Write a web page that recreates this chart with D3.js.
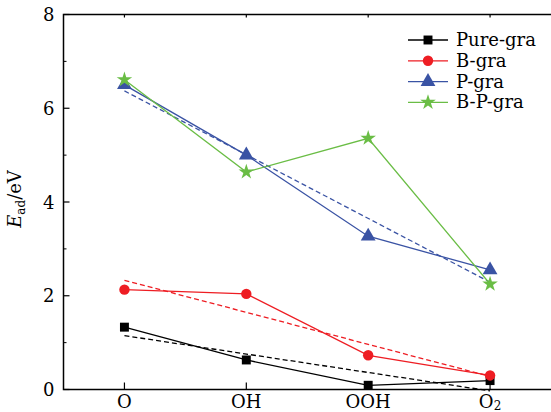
<!DOCTYPE html>
<html>
<head>
<meta charset="utf-8">
<script src="https://cdn.jsdelivr.net/npm/d3@7/dist/d3.min.js"></script>
<style>
  body { margin: 0; background: #fff; }
  text { font-family: "DejaVu Serif", serif; fill: #000; }
</style>
</head>
<body>
<svg id="chart" width="551" height="412"></svg>
<script>
// categories and values
const categories = ["O", "OH", "OOH", "O2"];
const pureGra = [1.33, 0.63, 0.09, 0.19];
const bGra = [2.13, 2.04, 0.73, 0.30];
const pGra = [6.50, 5.00, 3.27, 2.55];
const bpGra = [6.61, 4.64, 5.36, 2.25];
// dashed trend lines, value at O and at O2
const pureFit = [1.15, -0.03];
const bFit = [2.33, 0.28];
const pFit = [6.37, 2.29];
const yTicks = [0, 2, 4, 6, 8];
const yMinor = [1, 3, 5, 7];

const series = [
    {name: "Pure-gra", values: pureGra, fit: pureFit, color: "#000000", marker: d3.symbolSquare, size: 80},
    {name: "B-gra", values: bGra, fit: bFit, color: "#ee1d23", marker: d3.symbolCircle, size: 85},
    {name: "P-gra", values: pGra, fit: pFit, color: "#3a53a4", marker: d3.symbolTriangle, size: 95},
    {name: "B-P-gra", values: bpGra, fit: null, color: "#6abd45", marker: d3.symbolStar, size: 75}
];

function init() {
    const svg = d3.select("#chart");
    const left = 63.5, right = 551, top = 14.5, bottom = 389.5;

    const x = d3.scaleLinear().domain([-0.5, 3.5]).range([left, right]);
    const y = d3.scaleLinear().domain([0, 8]).range([bottom, top]);

    //frame
    svg.append("rect")
        .attr("x", left).attr("y", top)
        .attr("width", right - left + 2).attr("height", bottom - top)
        .attr("fill", "none").attr("stroke", "#000").attr("stroke-width", 1.5);

    //y ticks, inward
    svg.append("g").selectAll("line").data(yTicks).enter()
        .append("line")
        .attr("x1", left).attr("x2", left + 6)
        .attr("y1", d => y(d)).attr("y2", d => y(d))
        .attr("stroke", "#000").attr("stroke-width", 1.2);
    svg.append("g").selectAll("line").data(yMinor).enter()
        .append("line")
        .attr("x1", left).attr("x2", left + 3)
        .attr("y1", d => y(d)).attr("y2", d => y(d))
        .attr("stroke", "#000").attr("stroke-width", 1);
    svg.append("g").selectAll("text").data(yTicks).enter()
        .append("text")
        .attr("x", left - 9).attr("y", d => y(d) + 6.5)
        .attr("text-anchor", "end")
        .style("font-size", "18px")
        .text(d => d);

    //x ticks, bottom (up) and top (down)
    svg.append("g").selectAll("line").data(categories).enter()
        .append("line")
        .attr("x1", (d, i) => x(i)).attr("x2", (d, i) => x(i))
        .attr("y1", bottom).attr("y2", bottom - 7)
        .attr("stroke", "#000").attr("stroke-width", 1.2);
    svg.append("g").selectAll("line").data(categories).enter()
        .append("line")
        .attr("x1", (d, i) => x(i)).attr("x2", (d, i) => x(i))
        .attr("y1", top).attr("y2", top + 3)
        .attr("stroke", "#000").attr("stroke-width", 1.2);

    const xl = svg.append("g").selectAll("text").data(categories).enter()
        .append("text")
        .attr("x", (d, i) => x(i)).attr("y", 408)
        .attr("text-anchor", "middle")
        .style("font-size", "18px");
    xl.each(function(d) {
        const t = d3.select(this);
        if (d === "O2") {
            t.append("tspan").text("O");
            t.append("tspan").attr("dy", 2).style("font-size", "12px").text("2");
        } else {
            t.text(d);
        }
    });

    //y label
    const yl = svg.append("text")
        .attr("transform", "translate(21, 199) rotate(-90)")
        .attr("text-anchor", "middle")
        .style("font-size", "18px");
    yl.append("tspan").style("font-style", "italic").text("E");
    yl.append("tspan").attr("dy", 4).style("font-size", "12px").text("ad");
    yl.append("tspan").attr("dy", -4).text("/eV");

    const line = d3.line().x((d, i) => x(i)).y(d => y(d));

    //dashed fits
    series.filter(s => s.fit).forEach(s => {
        svg.append("line")
            .attr("x1", x(0)).attr("y1", y(s.fit[0]))
            .attr("x2", x(3)).attr("y2", y(s.fit[1]))
            .attr("stroke", s.color).attr("stroke-width", 1.3)
            .attr("stroke-dasharray", "5,3");
    });

    series.forEach(s => {
        svg.append("path")
            .datum(s.values)
            .attr("d", line)
            .attr("fill", "none")
            .attr("stroke", s.color)
            .attr("stroke-width", 1.3);
        svg.append("g").selectAll("path").data(s.values).enter()
            .append("path")
            .attr("d", d3.symbol().type(s.marker).size(s.size))
            .attr("transform", (d, i) => `translate(${x(i)},${y(d)})`)
            .attr("fill", s.color);
    });

    //legend
    const leg = svg.append("g").selectAll("g").data(series).enter()
        .append("g")
        .attr("transform", (d, i) => `translate(0, ${40 + i * 20.8})`);
    leg.append("line")
        .attr("x1", 408).attr("x2", 448)
        .attr("stroke", d => d.color).attr("stroke-width", 1.3);
    leg.append("path")
        .attr("d", d => d3.symbol().type(d.marker).size(d.size)())
        .attr("transform", "translate(428, 0)")
        .attr("fill", d => d.color);
    leg.append("text")
        .attr("x", 456).attr("y", 6)
        .style("font-size", "18px")
        .text(d => d.name);
}

window.onload = init;
</script>
</body>
</html>
